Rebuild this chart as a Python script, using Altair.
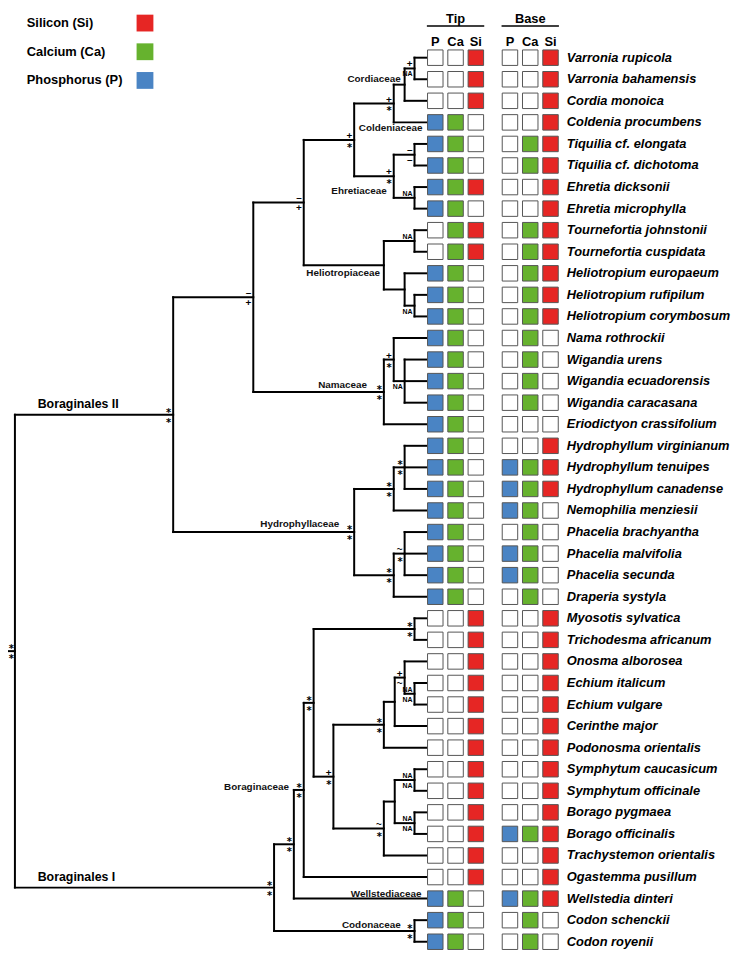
import altair as alt
import pandas as pd

# ---------------- data ----------------
species = [
    "Varronia rupicola", "Varronia bahamensis", "Cordia monoica", "Coldenia procumbens",
    "Tiquilia cf. elongata", "Tiquilia cf. dichotoma", "Ehretia dicksonii", "Ehretia microphylla",
    "Tournefortia johnstonii", "Tournefortia cuspidata", "Heliotropium europaeum",
    "Heliotropium rufipilum", "Heliotropium corymbosum", "Nama rothrockii", "Wigandia urens",
    "Wigandia ecuadorensis", "Wigandia caracasana", "Eriodictyon crassifolium",
    "Hydrophyllum virginianum", "Hydrophyllum tenuipes", "Hydrophyllum canadense",
    "Nemophilia menziesii", "Phacelia brachyantha", "Phacelia malvifolia", "Phacelia secunda",
    "Draperia systyla", "Myosotis sylvatica", "Trichodesma africanum", "Onosma alborosea",
    "Echium italicum", "Echium vulgare", "Cerinthe major", "Podonosma orientalis",
    "Symphytum caucasicum", "Symphytum officinale", "Borago pygmaea", "Borago officinalis",
    "Trachystemon orientalis", "Ogastemma pusillum", "Wellstedia dinteri", "Codon schenckii",
    "Codon royenii",
]

tip_P = [0, 0, 0, 1, 1, 1, 1, 1, 0, 0, 1, 1, 1, 1, 1, 1, 1, 1, 1, 1, 1,
         1, 1, 1, 1, 1, 0, 0, 0, 0, 0, 0, 0, 0, 0, 0, 0, 0, 0, 1, 1, 1]
tip_Ca = [0, 0, 0, 1, 1, 1, 1, 1, 1, 1, 1, 1, 1, 1, 1, 1, 1, 1, 1, 1, 1,
          1, 1, 1, 1, 1, 0, 0, 0, 0, 0, 0, 0, 0, 0, 0, 0, 0, 0, 1, 1, 1]
tip_Si = [1, 1, 1, 0, 0, 0, 1, 0, 1, 1, 0, 0, 0, 0, 0, 0, 0, 0, 0, 0, 0,
          0, 0, 0, 0, 0, 1, 1, 1, 1, 1, 1, 1, 1, 1, 1, 1, 1, 1, 0, 0, 0]
base_P = [0, 0, 0, 0, 0, 0, 0, 0, 0, 0, 0, 0, 0, 0, 0, 0, 0, 0, 0, 1, 1,
          1, 0, 1, 1, 0, 0, 0, 0, 0, 0, 0, 0, 0, 0, 0, 1, 0, 0, 1, 0, 0]
base_Ca = [0, 0, 0, 0, 1, 1, 0, 0, 1, 1, 1, 1, 1, 1, 1, 1, 1, 0, 0, 1, 1,
           1, 1, 1, 1, 1, 0, 0, 0, 0, 0, 0, 0, 0, 0, 0, 1, 0, 0, 1, 1, 1]
base_Si = [1, 1, 1, 1, 1, 1, 1, 1, 1, 1, 1, 1, 1, 0, 0, 0, 0, 0, 1, 1, 1,
           0, 0, 0, 0, 0, 1, 1, 1, 1, 1, 1, 1, 1, 1, 1, 1, 1, 1, 1, 0, 0]

elements = ["P", "Ca", "Si"]
parts = ["Tip", "Base"]
legend_labels = ["Silicon (Si)", "Calcium (Ca)", "Phosphorus (P)"]
legend_elements = ["Si", "Ca", "P"]

# tree topology: node -> (node depth, children top-to-bottom)
tree = {
    "root": (15, ["BII", "BI"]),
    "BII": (175, ["A", "Hyd"]),
    "A": (256, ["B", "Nam"]),
    "B": (307, ["C", "Hel"]),
    "C": (358, ["D", "Ehr"]),
    "D": (398, ["Cord", "Coldenia procumbens"]),
    "Cord": (409, ["Varr", "Cordia monoica"]),
    "Varr": (419, ["Varronia rupicola", "Varronia bahamensis"]),
    "Ehr": (398, ["Tiq", "Ehre"]),
    "Tiq": (419, ["Tiquilia cf. elongata", "Tiquilia cf. dichotoma"]),
    "Ehre": (419, ["Ehretia dicksonii", "Ehretia microphylla"]),
    "Hel": (388, ["Tourn", "Helio"]),
    "Tourn": (419, ["Tournefortia johnstonii", "Tournefortia cuspidata"]),
    "Helio": (409, ["Heliotropium europaeum", "HR"]),
    "HR": (419, ["Heliotropium rufipilum", "Heliotropium corymbosum"]),
    "Nam": (388, ["NW", "Eriodictyon crassifolium"]),
    "NW": (398, ["Nama rothrockii", "Wig"]),
    "Wig": (409, ["Wigandia urens", "Wigandia ecuadorensis", "Wigandia caracasana"]),
    "Hyd": (358, ["HN", "Pha"]),
    "HN": (398, ["Hydro", "Nemophilia menziesii"]),
    "Hydro": (409, ["Hydrophyllum virginianum", "Hydrophyllum tenuipes", "Hydrophyllum canadense"]),
    "Pha": (398, ["PhaS", "Draperia systyla"]),
    "PhaS": (409, ["Phacelia brachyantha", "Phacelia malvifolia", "Phacelia secunda"]),
    "BI": (277, ["E", "Codon"]),
    "E": (297, ["Bor", "Wellstedia dinteri"]),
    "Bor": (307, ["F", "Ogastemma pusillum"]),
    "F": (317, ["Myo", "G"]),
    "Myo": (419, ["Myosotis sylvatica", "Trichodesma africanum"]),
    "G": (337, ["H", "I"]),
    "H": (388, ["J", "Podonosma orientalis"]),
    "J": (399, ["K", "Cerinthe major"]),
    "K": (409, ["Onosma alborosea", "Ech"]),
    "Ech": (419, ["Echium italicum", "Echium vulgare"]),
    "I": (388, ["L", "Trachystemon orientalis"]),
    "L": (399, ["Sym", "Bora"]),
    "Sym": (419, ["Symphytum caucasicum", "Symphytum officinale"]),
    "Bora": (419, ["Borago pygmaea", "Borago officinalis"]),
    "Codon": (419, ["Codon schenckii", "Codon royenii"]),
}
tip_depth = 432

# support values (above, below the branch)
support = {
    "root": ("*", "*"), "BII": ("*", "*"), "A": ("–", "+"), "B": ("–", "+"),
    "C": ("+", "*"), "D": ("+", "*"), "Varr": ("+", "NA"), "Ehr": ("+", "*"),
    "Tiq": ("–", "–"), "Ehre": ("NA", ""), "Tourn": ("NA", ""), "HR": ("", "NA"),
    "NW": ("+", "*"), "Wig": ("", "NA"), "Nam": ("*", "*"), "Hyd": ("*", "*"),
    "HN": ("*", "*"), "Hydro": ("*", "*"), "Pha": ("*", "*"), "PhaS": ("~", "*"),
    "BI": ("*", "*"), "E": ("*", "*"), "Bor": ("*", "*"), "F": ("*", "*"),
    "Myo": ("*", "*"), "G": ("+", "*"), "H": ("*", "*"), "K": ("+", "~"),
    "Ech": ("NA", "NA"), "I": ("~", "*"), "Sym": ("NA", "NA"), "Bora": ("NA", "NA"),
    "Codon": ("*", "*"),
}

major_clades = ["Boraginales II", "Boraginales I"]
major_nodes = ["BII", "BI"]
families = ["Cordiaceae", "Coldeniaceae", "Ehretiaceae", "Heliotropiaceae", "Namaceae",
            "Hydrophyllaceae", "Boraginaceae", "Wellstediaceae", "Codonaceae"]
family_nodes = ["Cord", "Coldenia procumbens", "Ehr", "Hel", "Nam", "Hyd", "Bor",
                "Wellstedia dinteri", "Codon"]

# ---------------- layout / style ----------------
ROW_PX = 21.8
ROW0_PAGE = 53.0
W, H = 733, 949


def page_row(py):
    return (py - ROW0_PAGE) / ROW_PX


COLORS = {"P": "#4a84c4", "Ca": "#66b22e", "Si": "#e62624", "none": "#ffffff"}
COL_X0 = {"Tip": 440.0, "Base": 515.5}
COL_STEP = 20.5
SPECIES_X = 573
FONT = "Liberation Sans"
STAR_FONT = "DejaVu Sans"

xscale = alt.Scale(domain=[8, 8 + W], nice=False, zero=False)
yscale = alt.Scale(domain=[page_row(8), page_row(8 + H)], reverse=True, nice=False, zero=False)


def X(f):
    return alt.X(f, type="quantitative", scale=xscale, axis=None)


def X2(f):
    return alt.X2(f)


def Y(f):
    return alt.Y(f, type="quantitative", scale=yscale, axis=None)


# node positions
pos = {}


def place(n):
    if n in tree:
        d, ch = tree[n]
        ys = [place(c) for c in ch]
        pos[n] = (d, sum(ys) / len(ys))
    else:
        pos[n] = (tip_depth, species.index(n))
    return pos[n][1]


place("root")

segs = []
for n, (d, ch) in tree.items():
    ys = [pos[c][1] for c in ch]
    segs.append(dict(x=d, x2=d, y=min(ys), y2=max(ys)))
    for c in ch:
        segs.append(dict(x=d, x2=pos[c][0], y=pos[c][1], y2=pos[c][1]))
segs.append(dict(x=0, x2=tree["root"][0], y=pos["root"][1], y2=pos["root"][1]))
df_segs = pd.DataFrame(segs)

tree_layer = alt.Chart(df_segs).mark_rule(color="black", strokeWidth=2, strokeCap="square").encode(
    x=X("x"), x2=X2("x2"), y=Y("y"), y2=alt.Y2("y2"))

# support labels
GLYPH_MID = {"*": 0.56, "+": 0.35, "NA": 0.36, "–": 0.28, "~": 0.30}
GLYPH_SIZE = {"*": 10, "+": 10, "NA": 7, "–": 10, "~": 10}
sup_rows = []
for n, (top, bot) in support.items():
    d, r = pos[n]
    for lab, target in ((top, -4.5), (bot, 5.5)):
        if not lab:
            continue
        fs = GLYPH_SIZE[lab]
        sup_rows.append(dict(label=lab, fs=fs, star=(lab == "*"),
                             x=d - (1 if n == "root" else 2),
                             y=r + (target + GLYPH_MID[lab] * fs) / ROW_PX))
df_sup = pd.DataFrame(sup_rows)
sup_other = alt.Chart(df_sup[~df_sup.star]).mark_text(
    align="right", baseline="alphabetic", font=FONT, fontWeight="bold", color="black").encode(
    x=X("x"), y=Y("y"), text="label:N", size=alt.Size("fs:Q", scale=None, legend=None))
sup_star = alt.Chart(df_sup[df_sup.star]).mark_text(
    align="right", baseline="alphabetic", font=STAR_FONT, fontWeight="bold", color="black").encode(
    x=X("x"), y=Y("y"), text="label:N", size=alt.Size("fs:Q", scale=None, legend=None))

# clade labels
major_off = {"BII": (23, -11), "BI": (23, -11)}
df_major = pd.DataFrame([
    dict(label=lab, x=tree["root"][0] + major_off[n][0], y=pos[n][1] + major_off[n][1] / ROW_PX)
    for lab, n in zip(major_clades, major_nodes)])
major_layer = alt.Chart(df_major).mark_text(
    align="left", baseline="middle", font=FONT, fontWeight="bold", fontSize=12.5, color="black").encode(
    x=X("x"), y=Y("y"), text="label:N")

fam_off = {"Cord": (-4, -6), "Coldenia procumbens": (-5, 6), "Ehr": (-7, 15), "Hel": (-4, 8),
           "Nam": (-17, -7), "Hyd": (-15, -8), "Bor": (-15, -3), "Wellstedia dinteri": (-6, -5),
           "Codon": (-14, -6)}
df_fam = pd.DataFrame([
    dict(label=lab, x=pos[n][0] + fam_off[n][0], y=pos[n][1] + fam_off[n][1] / ROW_PX)
    for lab, n in zip(families, family_nodes)])
fam_layer = alt.Chart(df_fam).mark_text(
    align="right", baseline="middle", font=FONT, fontWeight="bold", fontSize=10, color="#111").encode(
    x=X("x"), y=Y("y"), text="label:N")

# trait matrix
vals = {("Tip", "P"): tip_P, ("Tip", "Ca"): tip_Ca, ("Tip", "Si"): tip_Si,
        ("Base", "P"): base_P, ("Base", "Ca"): base_Ca, ("Base", "Si"): base_Si}
cells = []
for i, sp in enumerate(species):
    for part in parts:
        for j, el in enumerate(elements):
            v = vals[(part, el)][i]
            cells.append(dict(species=sp, row=i, part=part, el=el,
                              x=COL_X0[part] + j * COL_STEP, fill=el if v else "none"))
df_cells = pd.DataFrame(cells)
fill_scale = alt.Scale(domain=list(COLORS.keys()), range=list(COLORS.values()))
cell_layer = alt.Chart(df_cells).mark_square(size=245, opacity=1, stroke="#555555", strokeWidth=1).encode(
    x=X("x"), y=Y("row"), fill=alt.Fill("fill:N", scale=fill_scale, legend=None))

# species names
df_sp = pd.DataFrame(dict(species=species, row=list(range(len(species))), x=SPECIES_X))
sp_layer = alt.Chart(df_sp).mark_text(
    align="left", baseline="middle", font=FONT, fontSize=13, fontWeight="bold",
    fontStyle="italic", color="black").encode(x=X("x"), y=Y("row"), text="species:N")

# headers
df_head = pd.DataFrame([dict(label=p, x=COL_X0[p] + COL_STEP, x1=COL_X0[p] - 8.5,
                             x2=COL_X0[p] + 2 * COL_STEP + 8.5,
                             y=page_row(14), yl=page_row(21)) for p in parts])
head_text = alt.Chart(df_head).mark_text(
    align="center", baseline="middle", font=FONT, fontSize=13, fontWeight="bold").encode(
    x=X("x"), y=Y("y"), text="label:N")
head_rule = alt.Chart(df_head).mark_rule(color="black", strokeWidth=1.5).encode(
    x=X("x1"), x2=X2("x2"), y=Y("yl"))
df_cols = pd.DataFrame([dict(label=el, x=COL_X0[p] + j * COL_STEP, y=page_row(37))
                        for p in parts for j, el in enumerate(elements)])
col_text = alt.Chart(df_cols).mark_text(
    align="center", baseline="middle", font=FONT, fontSize=13, fontWeight="bold").encode(
    x=X("x"), y=Y("y"), text="label:N")

# manual legend (label left, swatch right)
df_leg = pd.DataFrame([dict(label=l, el=e, xt=27, xb=146.5, y=page_row(18 + 29 * i))
                       for i, (l, e) in enumerate(zip(legend_labels, legend_elements))])
leg_text = alt.Chart(df_leg).mark_text(
    align="left", baseline="middle", font=FONT, fontSize=13, fontWeight="bold").encode(
    x=X("xt"), y=Y("y"), text="label:N")
leg_box = alt.Chart(df_leg).mark_square(size=289, opacity=1).encode(
    x=X("xb"), y=Y("y"), fill=alt.Fill("el:N", scale=fill_scale, legend=None))

chart = alt.layer(
    tree_layer, head_rule, cell_layer, leg_box,
    sup_other, sup_star, major_layer, fam_layer, sp_layer, head_text, col_text, leg_text,
).properties(
    width=W, height=H, padding=0, autosize=alt.AutoSizeParams(type="none")
).configure_view(stroke=None)

chart.save("out.html", embed_options={"renderer": "svg", "actions": False})
